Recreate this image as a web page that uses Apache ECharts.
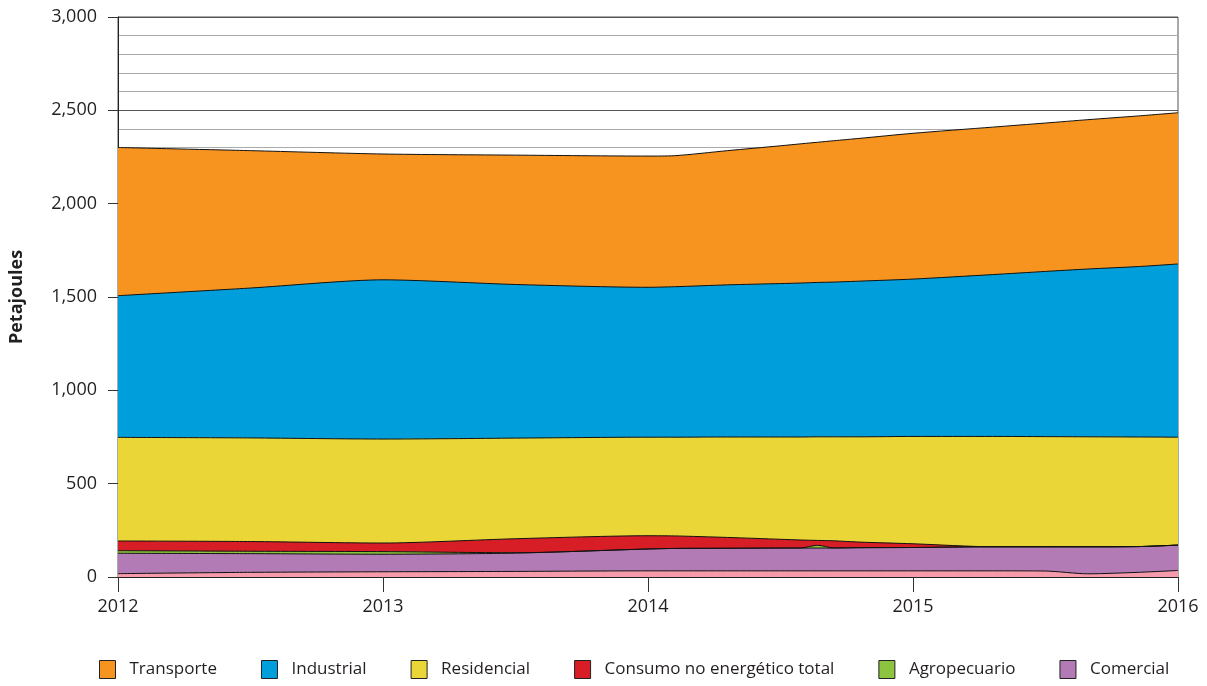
<!DOCTYPE html>
<html>
<head>
<meta charset="utf-8">
<script src="https://cdn.jsdelivr.net/npm/echarts@6/dist/echarts.min.js"></script>
<style>
  html, body { margin: 0; padding: 0; background: #fff; }
  #chart { width: 1207px; height: 686px; }
</style>
</head>
<body>
<div id="chart"></div>
<script>
// Sample positions along the time axis (years)
const years = [2012, 2012.5, 2013, 2013.5, 2014, 2014.1, 2014.3, 2014.5, 2014.58, 2014.64, 2014.7, 2014.8, 2015, 2015.3, 2015.5, 2015.66, 2015.85, 2016];

// Energy consumption per sector, petajoules (listed bottom to top of the stack)
const otros        = [18, 25, 28, 30, 33, 33, 33, 33, 33, 33, 33, 33, 33, 33, 32, 17, 25, 35];
const comercial    = [109, 100, 94, 98, 117, 120, 121, 122, 122, 122, 122, 124, 125, 129, 130, 145, 138, 136];
const agropecuario = [14, 13, 14, 2, 0, 0, 0, 0, 1, 15, 1, 0, 0, 0, 0, 0, 0, 0];
const consumoNoEn  = [52, 52, 46, 75, 71, 67, 58, 47, 42, 26, 38, 30, 20, 0, 0, 0, 0, 0];
const residencial  = [555, 555, 557, 539, 528, 529, 538, 548, 552, 555, 557, 564, 575, 591, 590, 589, 587, 578];
const industrial   = [759, 803, 853, 823, 803, 806, 815, 822, 825, 827, 829, 834, 843, 867, 885, 899, 913, 928];
const transporte   = [794, 736, 674, 693, 703, 702, 719, 738, 746, 751, 757, 765, 781, 790, 795, 800, 807, 810];

const yTicks = [0, 500, 1000, 1500, 2000, 2500, 3000];
const xTicks = [2012, 2013, 2014, 2015, 2016];

const legendNames = ['Transporte', 'Industrial', 'Residencial', 'Consumo no energético total', 'Agropecuario', 'Comercial'];

const layers = [
  { name: 'Otros', values: otros, color: '#F59BAB' },
  { name: 'Comercial', values: comercial, color: '#B37BB5' },
  { name: 'Agropecuario', values: agropecuario, color: '#8CC43F' },
  { name: 'Consumo no energético total', values: consumoNoEn, color: '#D71E26' },
  { name: 'Residencial', values: residencial, color: '#EBD637' },
  { name: 'Industrial', values: industrial, color: '#009FDB' },
  { name: 'Transporte', values: transporte, color: '#F7941F' }
];

// Running totals: each layer's upper edge
const running = years.map(() => 0);
layers.forEach(l => {
  l.top = l.values.map((v, i) => (running[i] += v));
});

// Draw the tallest band first so each lower band is painted over it
const drawOrder = layers.slice().reverse();

const font = '"Open Sans", "Noto Sans", sans-serif';
const chart = echarts.init(document.getElementById('chart'));

chart.setOption({
  animation: false,
  backgroundColor: '#fff',
  textStyle: { fontFamily: font },
  grid: {
    left: 118, right: 29, top: 17, bottom: 109,
    show: true, borderColor: '#555', borderWidth: 1, backgroundColor: 'transparent'
  },
  legend: {
    data: legendNames,
    left: 94, top: 655,
    itemWidth: 16, itemHeight: 18, itemGap: 44,
    icon: 'rect',
    itemStyle: { borderColor: '#222', borderWidth: 1 },
    textStyle: { fontFamily: font, fontSize: 17, color: '#231F20', padding: [0, 0, 0, 9] }
  },
  xAxis: {
    type: 'value',
    min: xTicks[0], max: xTicks[xTicks.length - 1], interval: 1,
    axisLine: { show: true, lineStyle: { color: '#222', width: 1 } },
    axisTick: { show: true, length: 15, lineStyle: { color: '#333' } },
    axisLabel: {
      color: '#231F20', fontSize: 18, fontFamily: font, margin: 21,
      formatter: v => String(v)
    },
    splitLine: { show: false }
  },
  yAxis: {
    type: 'value',
    min: yTicks[0], max: yTicks[yTicks.length - 1], interval: 500,
    name: 'Petajoules',
    nameLocation: 'middle',
    nameGap: 92,
    nameRotate: 90,
    nameTextStyle: { fontFamily: font, fontSize: 18, fontWeight: 'bold', color: '#231F20' },
    axisLine: { show: true, lineStyle: { color: '#222', width: 1 } },
    axisTick: { show: true, length: 10, lineStyle: { color: '#333' } },
    axisLabel: { color: '#231F20', fontSize: 18, fontFamily: font, margin: 21 },
    splitLine: { show: true, lineStyle: { color: '#555', width: 1 } },
    minorTick: { show: false, splitNumber: 5 },
    minorSplitLine: { show: true, lineStyle: { color: '#aaa', width: 1 } }
  },
  series: drawOrder.map(l => ({
    name: l.name,
    type: 'line',
    smooth: 0.25,
    showSymbol: false,
    symbol: 'none',
    data: years.map((x, i) => [x, l.top[i]]),
    lineStyle: { color: '#111', width: 1 },
    itemStyle: { color: l.color },
    areaStyle: { color: l.color, opacity: 1 }
  }))
});
</script>
</body>
</html>
